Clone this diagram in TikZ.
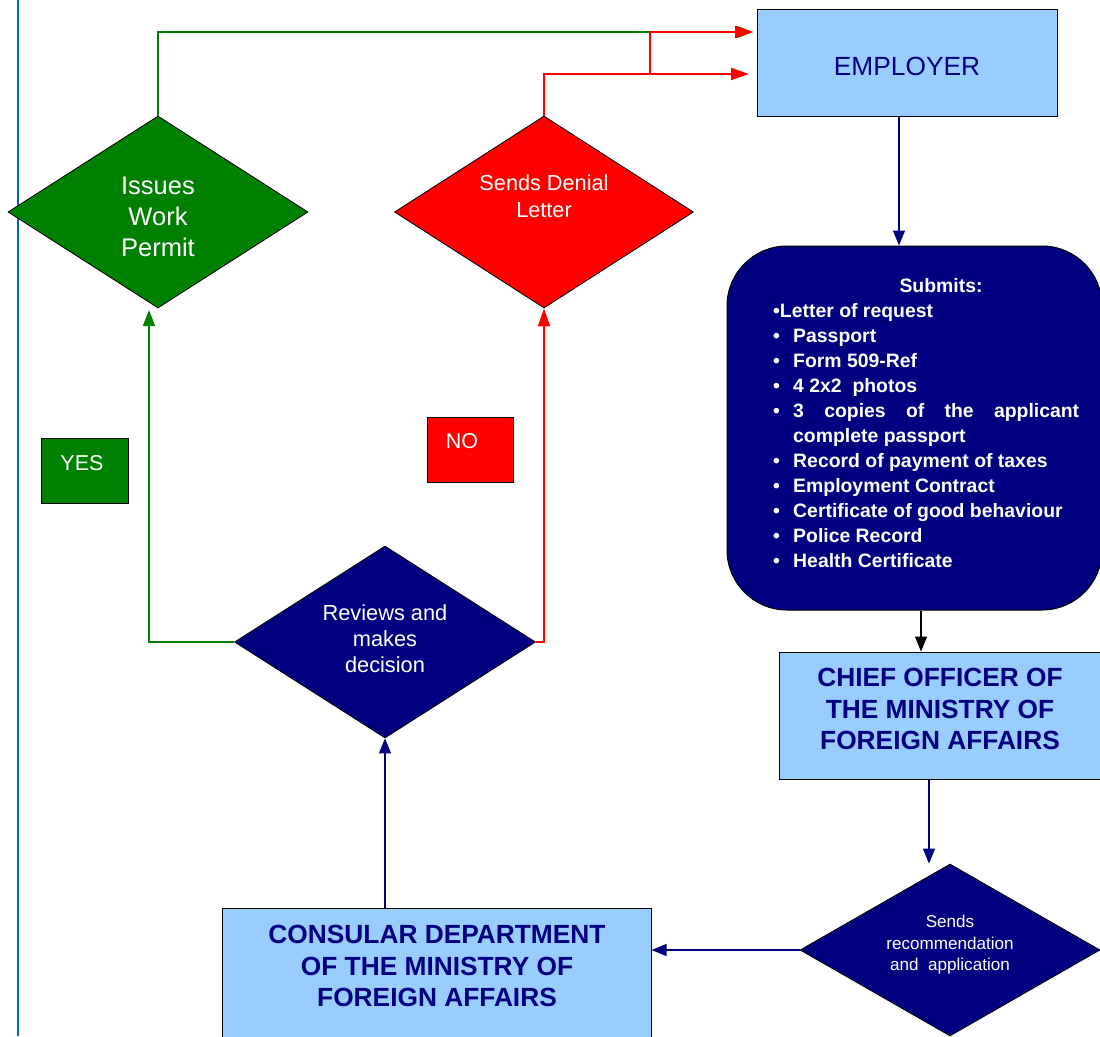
\documentclass[tikz,border=0pt]{standalone}
\usepackage{fontspec}
\setmainfont{Liberation Sans}
\usetikzlibrary{shapes.geometric,arrows.meta}
\definecolor{navy}{HTML}{000080}
\definecolor{lblue}{HTML}{99CCFF}
\definecolor{dgreen}{HTML}{008000}
\definecolor{rred}{HTML}{FF0000}
\definecolor{edgeblue}{HTML}{0066CC}
\begin{document}
\begin{tikzpicture}[x=1pt,y=-1pt,
  box/.style={draw=black,line width=1pt,fill=lblue,inner sep=0pt},
  dia/.style={diamond,draw=black,line width=0.8pt,inner sep=0pt},
  navytip/.style={-{Triangle[length=15pt,width=12pt]}},
  navyline/.style={draw=navy,line width=1.3pt,navytip,color=navy},
  blackline/.style={draw=black,line width=1.3pt,navytip},
  greenline/.style={draw=dgreen,line width=1.4pt,-{Triangle[length=16pt,width=12pt]},color=dgreen},
  redline/.style={draw=rred,line width=2pt,-{Triangle[length=18pt,width=12pt]},color=rred},
  wtext/.style={text=white,align=center,inner sep=0pt},
  subt/.style={text=white,font=\bfseries\fontsize{19.4}{25}\selectfont,inner sep=0pt},
  bigt/.style={text=navy,align=center,inner sep=0pt,font=\bfseries\fontsize{26.3}{31.5}\selectfont}
]
\useasboundingbox (0,0) rectangle (1100,1036);
\fill[white] (0,0) rectangle (1100,1036);
\draw[edgeblue,line width=2pt] (18,0) -- (18,1036);

% boxes
\node[box,minimum width=300,minimum height=107] (emp) at (907,62.5) {};
\node[text=navy,inner sep=0pt,font=\fontsize{26.3}{31}\selectfont] (empt) at (907,66) {EMPLOYER};
\node[draw=black,line width=1pt,fill=navy,rounded corners=60,minimum width=375,minimum height=364,inner sep=0pt] (sub) at (914.5,428) {};
\node[box,minimum width=322,minimum height=127] (chief) at (940,715.5) {};
\node[bigt] (chieft) at (940,709) {CHIEF OFFICER OF\\THE MINISTRY OF\\FOREIGN AFFAIRS};
\node[box,minimum width=429,minimum height=134] (cons) at (436.5,975) {};
\node[bigt] (const) at (437,966) {CONSULAR DEPARTMENT\\OF THE MINISTRY OF\\FOREIGN AFFAIRS};

% diamonds
\node[dia,fill=dgreen,minimum width=300,minimum height=192] (iss) at (158,212) {};
\node[wtext,font=\fontsize{25.5}{31}\selectfont] (isst) at (158,217) {Issues\\Work\\Permit};
\node[dia,fill=rred,minimum width=299,minimum height=192] (den) at (544,212) {};
\node[wtext,font=\fontsize{21.7}{27}\selectfont] (dent) at (544,196) {Sends Denial\\Letter};
\node[dia,fill=navy,minimum width=301,minimum height=192] (rev) at (385,642) {};
\node[wtext,font=\fontsize{21.8}{26}\selectfont] (revt) at (385,639) {Reviews and\\makes\\decision};
\node[dia,fill=navy,minimum width=300,minimum height=172] (snd) at (950,950) {};
\node[wtext,font=\fontsize{17.1}{21.5}\selectfont] (sndt) at (950,945) {Sends\\recommendation\\and~ application};

% yes / no
\node[draw=black,line width=1pt,fill=dgreen,minimum width=87,minimum height=65,inner sep=0pt] (yes) at (84.5,470.5) {};
\node[text=white,anchor=base,inner sep=0pt,font=\fontsize{21.5}{25}\selectfont] (yest) at (82,470) {YES};
\node[draw=black,line width=1pt,fill=rred,minimum width=86,minimum height=65,inner sep=0pt] (no) at (470,449.5) {};
\node[text=white,anchor=base,inner sep=0pt,font=\fontsize{21.5}{25}\selectfont] (not) at (462,448) {NO};

% submits text
\node[subt,anchor=base] (s0) at (941,292) {Submits:};
\node[subt,anchor=base west] (s1) at (773,317) {•Letter of request};
\foreach \yy/\itm in {342/Passport,367/Form 509-Ref,417/{\makebox[286pt][s]{3 copies of the applicant}},442/complete passport,467/Record of payment of taxes,492/Employment Contract,517/Certificate of good behaviour,542/Police Record,567/Health Certificate}{
  \node[subt,anchor=base west] (t\yy) at (793,\yy) {\itm};
}
\node[subt,anchor=base west] (t392) at (793,392) {4 2x2~ photos};
\foreach \yy in {342,367,392,417,467,492,517,542,567}{
  \node[subt,anchor=base west] (b\yy) at (773,\yy) {•};
}

% connectors
\coordinate (e1) at (753,32);
\coordinate (e2) at (749,74);
\coordinate (rj) at (650,74);
\coordinate (gtip) at (149,310);
\draw[navyline] ([xshift=-8pt]emp.south) -- ([xshift=-8pt]emp.south |- sub.north);
\draw[blackline] ([xshift=6.5pt]sub.south) -- ([xshift=6.5pt]sub.south |- chief.north);
\draw[navyline] ([xshift=-11pt]chief.south) -- ([xshift=-11pt]chief.south |- snd.north);
\draw[navyline] (snd.west) -- (snd.west -| cons.east);
\draw[navyline] (rev.south |- cons.north) -- (rev.south);
\draw[greenline] (rev.west) -| (gtip);
\draw[greenline] (iss.north) |- (e1);
\draw[redline] (rev.east) -| (den.south);
\draw[redline] (den.north) |- (e2);
\draw[redline] (rj) |- (e1);
\end{tikzpicture}
\end{document}
